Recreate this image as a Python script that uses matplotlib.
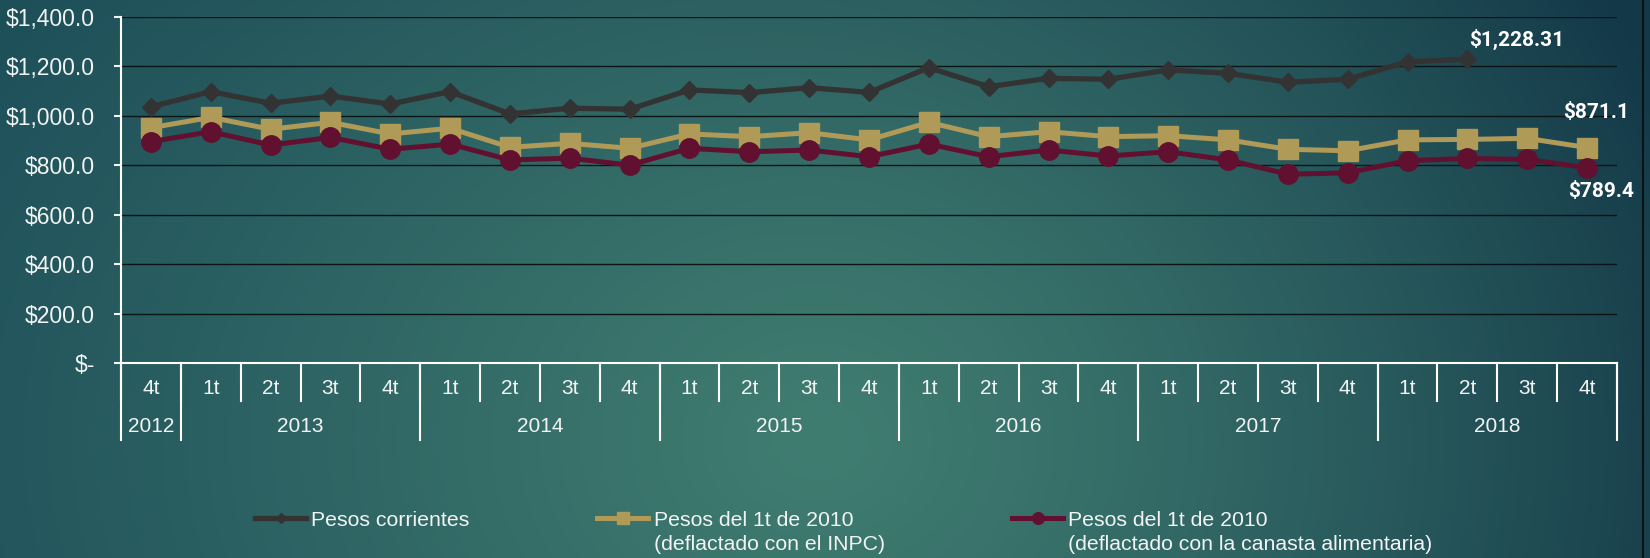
import numpy as np
import matplotlib
matplotlib.use("Agg")
import matplotlib.pyplot as plt
from matplotlib.lines import Line2D
from matplotlib.ticker import FuncFormatter

# categories
quarters = ["4t"] + ["1t", "2t", "3t", "4t"] * 6
years = ["2012", "2013", "2014", "2015", "2016", "2017", "2018"]
year_counts = [1, 4, 4, 4, 4, 4, 4]

# series (pesos)
pesos_corrientes = [1036, 1097, 1050, 1079, 1047, 1097, 1007, 1030, 1026, 1104, 1093, 1113,
                    1094, 1194, 1117, 1151, 1147, 1185, 1171, 1135, 1147, 1218, 1228.31]
pesos_inpc = [951, 993, 945, 973, 926, 949, 872, 888, 868, 926, 915, 931,
              902, 973, 915, 935, 915, 919, 902, 864, 858, 902, 904, 908, 871.1]
pesos_canasta = [895, 935, 881, 912, 864, 885, 821, 828, 800, 868, 854, 861,
                 834, 885, 834, 861, 837, 854, 821, 763, 769, 818, 827, 823, 789.4]

series_names = ["Pesos corrientes",
                "Pesos del 1t de 2010\n(deflactado con el INPC)",
                "Pesos del 1t de 2010\n(deflactado con la canasta alimentaria)"]

txt = "#f2f4f4"
plt.rcParams['font.family'] = ['Liberation Sans', 'DejaVu Sans']

W, H = 1650, 558
fig = plt.figure(figsize=(W / 100, H / 100), dpi=100)

# background gradient
yy, xx = np.mgrid[0:H, 0:W]
d = np.sqrt(((xx - 820) / 950.0) ** 2 + ((yy - 440) / 800.0) ** 2)
t = np.clip(d, 0, 1)[..., None] ** 1.15
center = np.array([64, 125, 113]) / 255
edge_l = np.array([30, 80, 90]) / 255
edge_r = np.array([19, 56, 72]) / 255
edge = edge_l + (edge_r - edge_l) * (xx / W)[..., None]
img = center * (1 - t) + edge * t
bg = fig.add_axes([0, 0, 1, 1], zorder=0)
bg.imshow(img, aspect="auto", extent=[0, 1, 0, 1], origin="upper")
bg.axis("off")
fig.add_artist(Line2D([1643 / W] * 2, [0, 1], transform=fig.transFigure, color="#0a1214", lw=1.5))

ax_h = 363 - 16.7
ax = fig.add_axes([121 / W, 1 - 363 / H, (1617 - 121) / W, ax_h / H], zorder=1)
ax.set_facecolor("none")

x = np.arange(len(quarters))
ax.plot(x, pesos_inpc, color="#b09a58", lw=3.6, marker="s", ms=14, zorder=3, label=series_names[1])
ax.plot(x, pesos_canasta, color="#621030", lw=3.6, marker="o", ms=14, zorder=4, label=series_names[2])
ax.plot(x[:len(pesos_corrientes)], pesos_corrientes, color="#333333", lw=3.8, marker="D", ms=9,
        zorder=5, label=series_names[0])

ax.set_xlim(-0.5, len(quarters) - 0.5)
ax.set_ylim(0, 1400)
ax.set_yticks(range(0, 1401, 200))
ax.yaxis.set_major_formatter(FuncFormatter(lambda v, p: "$-" if v == 0 else "${:,.1f}".format(v)))
ax.tick_params(axis="y", colors=txt, length=5, width=1.5, pad=14, labelsize=16.5)
ax.set_xticks([])
ax.yaxis.grid(True, color="#0b1515", lw=1)
ax.set_axisbelow(True)
for s in ["top", "right"]:
    ax.spines[s].set_visible(False)
for s in ["left", "bottom"]:
    ax.spines[s].set_color("white")
    ax.spines[s].set_linewidth(1.5)

# two-level category axis
trans = ax.get_xaxis_transform()
short = -38 / ax_h
long_ = -77 / ax_h
for b in np.arange(-0.5, len(quarters)):
    ax.plot([b, b], [0, short], transform=trans, clip_on=False, color="white", lw=1.5)
bounds = -0.5 + np.cumsum([0] + year_counts)
for b in bounds:
    ax.plot([b, b], [0, long_], transform=trans, clip_on=False, color="white", lw=1.5)
for i, q in enumerate(quarters):
    ax.text(i, -25 / ax_h, q, transform=trans, ha="center", va="center", fontsize=15, color=txt)
for k, yr in enumerate(years):
    c = (bounds[k] + bounds[k + 1]) / 2
    ax.text(c, -64 / ax_h, yr, transform=trans, ha="center", va="center", fontsize=15, color=txt)

# end labels
bold = dict(color="white", fontsize=15, fontweight="bold", family=["Roboto", "DejaVu Sans"],
            textcoords="offset pixels", va="center")
ax.annotate("${:,.2f}".format(pesos_corrientes[-1]), (len(pesos_corrientes) - 1, pesos_corrientes[-1]),
            xytext=(2, 20), ha="left", **bold)
ax.annotate("${:,.1f}".format(pesos_inpc[-1]), (len(pesos_inpc) - 1, pesos_inpc[-1]),
            xytext=(9, 35), ha="center", **bold)
ax.annotate("${:,.1f}".format(pesos_canasta[-1]), (len(pesos_canasta) - 1, pesos_canasta[-1]),
            xytext=(14, -24), ha="center", **bold)

# legend
handles, labels = ax.get_legend_handles_labels()
order = [2, 0, 1]
leg = ax.legend([handles[i] for i in order], [labels[i] for i in order],
                loc="upper left", bbox_to_anchor=(255 / W, 1 - 511 / H), bbox_transform=fig.transFigure,
                ncol=3, frameon=False, fontsize=15.3, handlelength=2.4, handletextpad=0.25,
                columnspacing=6.0, markerscale=0.6, borderpad=0, borderaxespad=0, labelcolor=txt)
for tx in leg.get_texts():
    tx.set_linespacing(1.3)
try:
    box = leg._legend_handle_box
    box.align = "top"
    for col in box.get_children():
        col.align = "left"
        for row in col.get_children():
            row.align = "top"
except Exception:
    pass

fig.savefig("out.png", dpi=100)
